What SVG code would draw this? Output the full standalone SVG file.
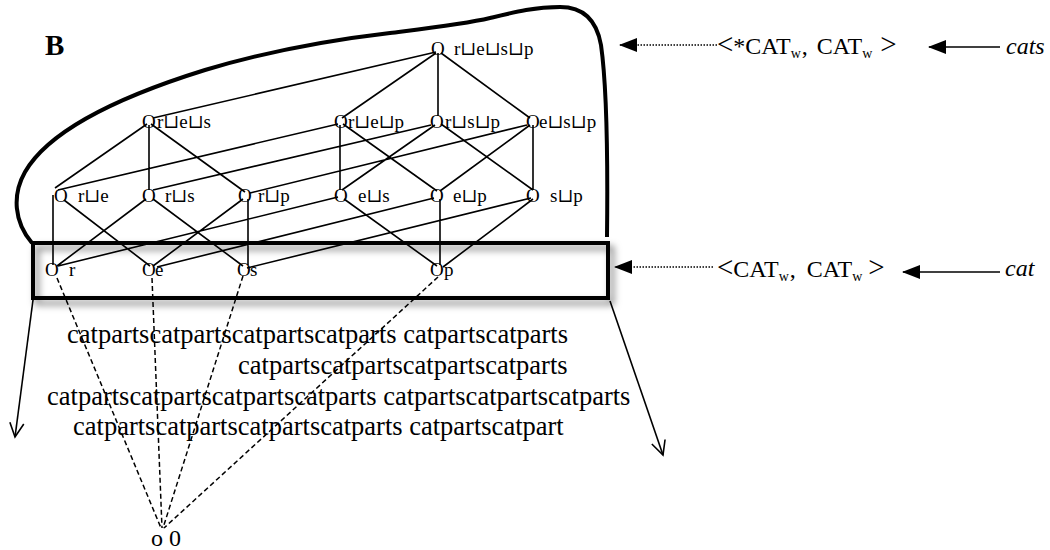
<svg xmlns="http://www.w3.org/2000/svg" width="1050" height="550" viewBox="0 0 1050 550">
<defs>
<style>
.t{font-family:"Liberation Serif","DejaVu Serif",serif;fill:#000}
.n{font-size:19px}
.e{stroke:#000;stroke-width:1.6;fill:none}
.d{stroke:#000;stroke-width:1.5;fill:none;stroke-dasharray:5 3}
.dot{stroke:#000;stroke-width:1.5;fill:none;stroke-dasharray:1.5 1.5}
.thick{stroke:#000;stroke-width:4;fill:none}
.big{font-size:24px}
.sub{font-size:14px}
.ang{font-size:29px}
.it{font-size:24px;font-style:italic}
</style>
<marker id="tri" markerUnits="userSpaceOnUse" markerWidth="18" markerHeight="14" refX="17" refY="7" orient="auto">
<path d="M0,0 L18,7 L0,14 z" fill="#000"/>
</marker>
<marker id="vee" markerUnits="userSpaceOnUse" markerWidth="18" markerHeight="18" refX="15" refY="9" orient="auto" overflow="visible">
<path d="M1,2 L15,9 L1,16" fill="none" stroke="#000" stroke-width="1.6"/>
</marker>
<filter id="sh" x="-5%" y="-40%" width="115%" height="190%">
<feDropShadow dx="4" dy="5" stdDeviation="3.5" flood-color="#000" flood-opacity="0.5"/>
</filter>
</defs>
<rect width="1050" height="550" fill="#fff"/>

<g id="label-B"><text class="t" x="45" y="55" font-size="29" font-weight="bold">B</text></g>

<g id="blob"><path class="thick" d="M 32,243 C 14,222 12,195 25,172 C 48,132 115,98 205,70 C 265,52 330,40 390,33 C 430,28 465,24 490,18 C 515,12 535,7 560,7 C 585,7 597,22 601,45 C 606,80 608,150 607,237"/></g>

<g id="base-box"><rect class="thick" x="33" y="243" width="575" height="55" filter="url(#sh)"/></g>

<g id="connectors">
<path class="e" d="M436,52 L153,118 M436,53 L342,118 M438,53 L438,116 M441,53 L530,118"/>
<path class="e" d="M147,124 L55,188 M149,125 L149,190 M151,124 L245,192 M338,124 L58,190 M340,125 L340,190 M343,124 L437,191 M431,125 L153,190 M435,125 L342,190 M441,124 L533,190 M527,125 L250,193 M530,125 L440,191 M533,125 L533,190"/>
<path class="e" d="M53,195 L53,265 M64,200 L150,266 M146,199 L57,266 M153,199 L243,266 M243,199 L153,266 M248,199 L248,265 M338,197 L58,266 M344,199 L437,266 M434,198 L157,267 M440,199 L440,265 M531,198 L247,268 M533,199 L443,267"/>
<path class="d" d="M57,278 L161,528 M152,278 L162,528 M243,276 L163,528 M438,277 L164,528"/>
<path class="e" d="M33,300 L15,437" marker-end="url(#vee)"/>
<path class="e" d="M610,301 L663,455" marker-end="url(#vee)"/>
<path class="dot" d="M717,45 L620,45" marker-end="url(#tri)"/>
<path class="e" d="M1000,47 L929,47" marker-end="url(#tri)"/>
<path class="dot" d="M713,267 L615,267" marker-end="url(#tri)"/>
<path class="e" d="M1000,272 L903,272" marker-end="url(#tri)"/>
</g>

<g id="n-top"><text class="t n" x="431" y="55">O</text><text class="t n" x="454" y="55">r⊔e⊔s⊔p</text></g>
<g id="n-res"><text class="t n" x="142" y="128">O</text><text class="t n" x="157" y="128">r⊔e⊔s</text></g>
<g id="n-rep"><text class="t n" x="334" y="128">O</text><text class="t n" x="348" y="128">r⊔e⊔p</text></g>
<g id="n-rsp"><text class="t n" x="430" y="128">O</text><text class="t n" x="445" y="128">r⊔s⊔p</text></g>
<g id="n-esp"><text class="t n" x="526" y="128">O</text><text class="t n" x="539" y="128">e⊔s⊔p</text></g>

<g id="n-re"><text class="t n" x="54" y="202">O</text><text class="t n" x="78" y="202">r⊔e</text></g>
<g id="n-rs"><text class="t n" x="142" y="202">O</text><text class="t n" x="165" y="202">r⊔s</text></g>
<g id="n-rp"><text class="t n" x="238" y="202">O</text><text class="t n" x="258" y="202">r⊔p</text></g>
<g id="n-es"><text class="t n" x="334" y="202">O</text><text class="t n" x="358" y="202">e⊔s</text></g>
<g id="n-ep"><text class="t n" x="430" y="202">O</text><text class="t n" x="453" y="202">e⊔p</text></g>
<g id="n-sp"><text class="t n" x="526" y="202">O</text><text class="t n" x="550" y="202">s⊔p</text></g>

<g id="n-r"><text class="t n" x="45" y="276">O</text><text class="t n" x="69" y="276">r</text></g>
<g id="n-e"><text class="t n" x="142" y="276">O</text><text class="t n" x="155" y="276">e</text></g>
<g id="n-s"><text class="t n" x="237" y="276">O</text><text class="t n" x="250" y="276">s</text></g>
<g id="n-p"><text class="t n" x="430" y="276">O</text><text class="t n" x="444" y="276">p</text></g>

<g id="n-zero"><text class="t" x="151" y="546" font-size="24">o 0</text></g>

<g id="words">
<text class="t" font-size="26.5" x="67" y="343">catpartscatpartscatpartscatparts catpartscatparts</text>
<text class="t" font-size="26.5" x="238" y="374">catpartscatpartscatpartscatparts</text>
<text class="t" font-size="26.5" x="47" y="405">catpartscatpartscatpartscatparts catpartscatpartscatparts</text>
<text class="t" font-size="26.5" x="73" y="435">catpartscatpartscatpartscatparts catpartscatpart</text>
</g>

<g id="label-cats-pair">
<text class="t big" y="54"><tspan class="ang" x="717">&lt;</tspan><tspan>*CAT</tspan><tspan class="sub" dy="4">w</tspan><tspan dx="1" dy="-4">,</tspan><tspan dx="9">CAT</tspan><tspan class="sub" dy="4">w</tspan><tspan class="ang" dx="8" dy="-4">&gt;</tspan></text>
</g>
<g id="label-cats"><text class="t it" x="1006" y="54">cats</text></g>

<g id="label-cat-pair">
<text class="t big" y="277"><tspan class="ang" x="717">&lt;</tspan><tspan>CAT</tspan><tspan class="sub" dy="4">w</tspan><tspan dx="1" dy="-4">,</tspan><tspan dx="11">CAT</tspan><tspan class="sub" dy="4">w</tspan><tspan class="ang" dx="6" dy="-4">&gt;</tspan></text>
</g>
<g id="label-cat"><text class="t it" x="1005" y="276">cat</text></g>
</svg>
